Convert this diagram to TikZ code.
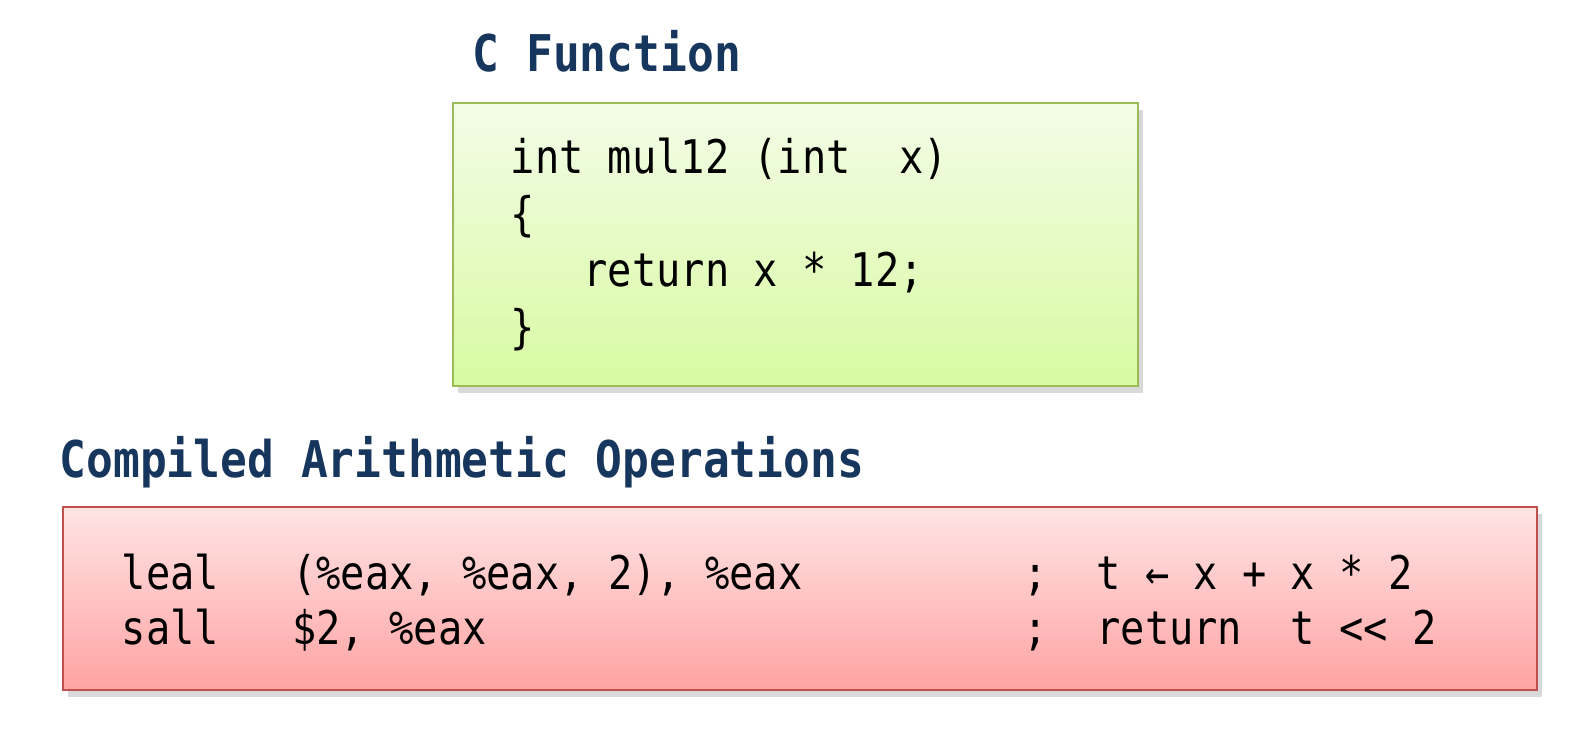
\documentclass[tikz,border=0pt]{standalone}
\usepackage{fontspec}
\usepackage{tikz}
\usetikzlibrary{shadows}
\newfontfamily\codefont[FakeStretch=0.87]{DejaVu Sans Mono}
\newfontfamily\titlefont[FakeStretch=0.88]{DejaVu Sans Mono}
\definecolor{titleblue}{RGB}{23,54,93}
\definecolor{cgreentop}{RGB}{243,252,231}
\definecolor{cgreenbot}{RGB}{216,250,162}
\definecolor{cgreenline}{RGB}{155,187,89}
\definecolor{asmredtop}{RGB}{255,228,228}
\definecolor{asmredbot}{RGB}{255,163,163}
\definecolor{asmredline}{RGB}{192,80,77}
\newcommand{\cw}{0.2437}

\begin{document}
\begin{tikzpicture}[
        codebox/.style={rectangle, draw, line width=0.6pt, inner sep=0pt,
            drop shadow={shadow xshift=1.5pt, shadow yshift=-2pt, opacity=0.15, fill=black}},
        title/.style={anchor=base west, inner sep=0pt, text=titleblue, font=\titlefont\bfseries\fontsize{14.4}{17}\selectfont},
        codetext/.style={anchor=base west, inner sep=0pt, font=\codefont\fontsize{13.2}{15}\selectfont}
    ]
    \useasboundingbox (0,0) rectangle (15.84,7.31);
    \fill[white] (0,0) rectangle (15.84,7.31);

    % C function
    \node[title] (ctitle) at (4.72,6.59) {C Function};
    \node[codebox, draw=cgreenline, top color=cgreentop, bottom color=cgreenbot,
        minimum width=6.85cm, minimum height=2.83cm] (cbox) at (7.955,4.865) {};
    \node[codetext] (cline1) at (5.10,5.57) {int mul12 (int\ \ x)};
    \node[codetext] (cline2) at (5.10,5.005) {\{};
    \node[codetext] (cline3) at (5.10,4.44) {\ \ \ return x * 12;};
    \node[codetext] (cline4) at (5.10,3.875) {\}};

    % Compiled operations
    \node[title] (asmtitle) at (0.59,2.53) {Compiled Arithmetic Operations};
    \node[codebox, draw=asmredline, top color=asmredtop, bottom color=asmredbot,
        minimum width=14.74cm, minimum height=1.83cm] (asmbox) at (8.00,1.325) {};

    \node[codetext] (leal) at (1.21,1.41) {leal};
    \node[codetext] (lealargs) at (1.21+7*\cw,1.41) {(\%eax, \%eax, 2), \%eax};
    \node[codetext] (lealsemi) at (1.21+37*\cw,1.41) {;};
    \node[codetext] (lealnote) at (1.21+40*\cw,1.41) {t ← x + x * 2};

    \node[codetext] (sall) at (1.21,0.86) {sall};
    \node[codetext] (sallargs) at (1.21+7*\cw,0.86) {\$2, \%eax};
    \node[codetext] (sallsemi) at (1.21+37*\cw,0.86) {;};
    \node[codetext] (sallnote) at (1.21+40*\cw,0.86) {return\ \ t << 2};

\end{tikzpicture}
\end{document}
